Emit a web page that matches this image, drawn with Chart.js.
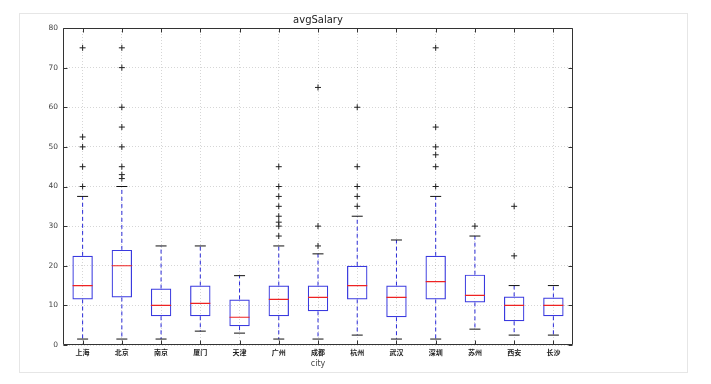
<!DOCTYPE html>
<html>
<head>
<meta charset="utf-8">
<script src="https://cdn.jsdelivr.net/npm/chart.js@4/dist/chart.umd.min.js"></script>
<style>
  html, body { margin: 0; padding: 0; background: #fff; }
  #wrap { position: relative; width: 711px; height: 384px; }
  #frame { position: absolute; left: 19px; top: 13px; width: 667px; height: 358px; border: 1px solid #e6e6e6; }
  #c { position: absolute; left: 0; top: 0; }
</style>
</head>
<body>
<div id="wrap">
  <div id="frame"></div>
  <canvas id="c" width="711" height="384"></canvas>
</div>
<script>
const cities   = ['上海','北京','南京','厦门','天津','广州','成都','杭州','武汉','深圳','苏州','西安','长沙'];
const lowCap   = [1.5, 1.5, 1.5, 3.5, 3, 1.5, 1.5, 2.5, 1.5, 1.5, 4, 2.5, 2.5];
const q1       = [11.5, 12, 7.25, 7.25, 4.75, 7.25, 8.5, 11.5, 7, 11.5, 10.75, 6, 7.25];
const medians  = [15, 20, 10, 10.5, 7, 11.5, 12, 15, 12, 16, 12.5, 10, 10];
const q3       = [22.5, 24, 14.25, 15, 11.5, 15, 15, 20, 15, 22.5, 17.75, 12.25, 12];
const highCap  = [37.5, 40, 25, 25, 17.5, 25, 23, 32.5, 26.5, 37.5, 27.5, 15, 15];
const outliers = [
  [75, 52.5, 50, 45, 40],
  [75, 70, 60, 55, 50, 45, 43, 42],
  [],
  [],
  [],
  [45, 40, 37.5, 35, 32.5, 31, 30, 27.5],
  [65, 30, 25],
  [60, 45, 40, 37.5, 35],
  [],
  [75, 55, 50, 48, 45, 40],
  [30],
  [35, 22.5],
  []
];
const yTicks = [0, 10, 20, 30, 40, 50, 60, 70, 80];

const boxData = cities.map((c, i) => [q1[i], q3[i]]);
const whiskerData = [];
cities.forEach((c, i) => {
  whiskerData.push({x: c, y: q3[i]}, {x: c, y: highCap[i]}, {x: c, y: null});
  whiskerData.push({x: c, y: q1[i]}, {x: c, y: lowCap[i]}, {x: c, y: null});
});
const capData = [];
cities.forEach((c, i) => { capData.push({x: c, y: lowCap[i]}, {x: c, y: highCap[i]}); });
const flierData = [];
cities.forEach((c, i) => outliers[i].forEach(v => flierData.push({x: c, y: v})));

const framePlugin = {
  id: 'frame',
  afterDatasetsDraw(chart) {
    const {ctx, chartArea: a, scales} = chart;
    ctx.save();
    ctx.strokeStyle = '#333';
    ctx.lineWidth = 1;
    ctx.beginPath();
    const L = Math.round(a.left) + 0.5, R = Math.round(a.right) - 0.5;
    const T = Math.round(a.top) + 0.5, B = Math.round(a.bottom) - 0.5;
    ctx.rect(L, T, R - L, B - T);
    scales.y.ticks.forEach((t, i) => {
      const py = Math.round(scales.y.getPixelForTick(i)) + 0.5;
      ctx.moveTo(L, py); ctx.lineTo(L + 4, py);
      ctx.moveTo(R, py); ctx.lineTo(R - 4, py);
    });
    scales.x.ticks.forEach((t, i) => {
      const px = Math.round(scales.x.getPixelForTick(i)) + 0.5;
      ctx.moveTo(px, B); ctx.lineTo(px, B - 4);
      ctx.moveTo(px, T); ctx.lineTo(px, T + 4);
    });
    ctx.stroke();
    ctx.restore();
  }
};

new Chart(document.getElementById('c'), {
  data: {
    labels: cities,
    datasets: [
      {
        type: 'line', label: 'whiskers', data: whiskerData, xAxisID: 'x', yAxisID: 'y',
        borderColor: '#2b2bd8', borderWidth: 1, borderDash: [4, 3],
        pointRadius: 0, spanGaps: false, fill: false, order: 5
      },
      {
        type: 'bar', label: 'box', data: boxData, xAxisID: 'x', yAxisID: 'y',
        backgroundColor: 'rgba(255,255,255,0)', borderColor: '#3a3adf', borderWidth: 1.2,
        borderSkipped: false, barPercentage: 0.52, categoryPercentage: 1, grouped: false, order: 4
      },
      {
        type: 'line', label: 'caps', data: capData, showLine: false, xAxisID: 'x', yAxisID: 'y',
        pointStyle: 'line', pointRadius: 5.5, borderColor: '#111', borderWidth: 1, order: 3
      },
      {
        type: 'line', label: 'median', data: medians, showLine: false, xAxisID: 'x', yAxisID: 'y',
        pointStyle: 'line', pointRadius: 10, borderColor: '#ee2222', borderWidth: 1.2, order: 2
      },
      {
        type: 'line', label: 'fliers', data: flierData, showLine: false, xAxisID: 'x', yAxisID: 'y',
        pointStyle: 'cross', pointRadius: 3, borderColor: '#222', borderWidth: 1, order: 1
      }
    ]
  },
  options: {
    responsive: false,
    animation: false,
    events: [],
    layout: { padding: { left: 0, right: 138, top: 0, bottom: 0 } },
    plugins: { legend: { display: false }, tooltip: { enabled: false }, title: { display: false } },
    scales: {
      x: {
        type: 'category', position: 'bottom', offset: true,
        grid: { display: true, offset: false, color: 'rgba(0,0,0,0.16)', drawTicks: false },
        border: { display: false, dash: [1, 2] },
        ticks: { color: '#222', padding: 3, font: { family: 'Noto Sans CJK SC', size: 7, weight: 'bold' }, maxRotation: 0, autoSkip: false },
        title: { display: true, text: 'city', color: '#444',
                 font: { family: 'DejaVu Sans', size: 8 }, padding: { top: 0, bottom: 15 } },
        afterFit(s) { s.height = 39; }
      },
      xTop: {
        type: 'category', position: 'top', labels: cities, offset: true,
        grid: { display: false }, border: { display: false },
        ticks: { display: false },
        title: { display: true, text: 'avgSalary', color: '#222',
                 font: { family: 'DejaVu Sans', size: 10 }, padding: { top: 14, bottom: 0 } },
        afterFit(s) { s.height = 28; }
      },
      y: {
        type: 'linear', min: 0, max: 80,
        afterBuildTicks(s) { s.ticks = yTicks.map(v => ({ value: v })); },
        grid: { display: true, color: 'rgba(0,0,0,0.16)', drawTicks: false },
        border: { display: false, dash: [1, 2] },
        ticks: { color: '#444', padding: 5, font: { family: 'DejaVu Sans', size: 7.5 } },
        afterFit(s) { s.width = 63; }
      }
    }
  },
  plugins: [framePlugin]
});
</script>
</body>
</html>
